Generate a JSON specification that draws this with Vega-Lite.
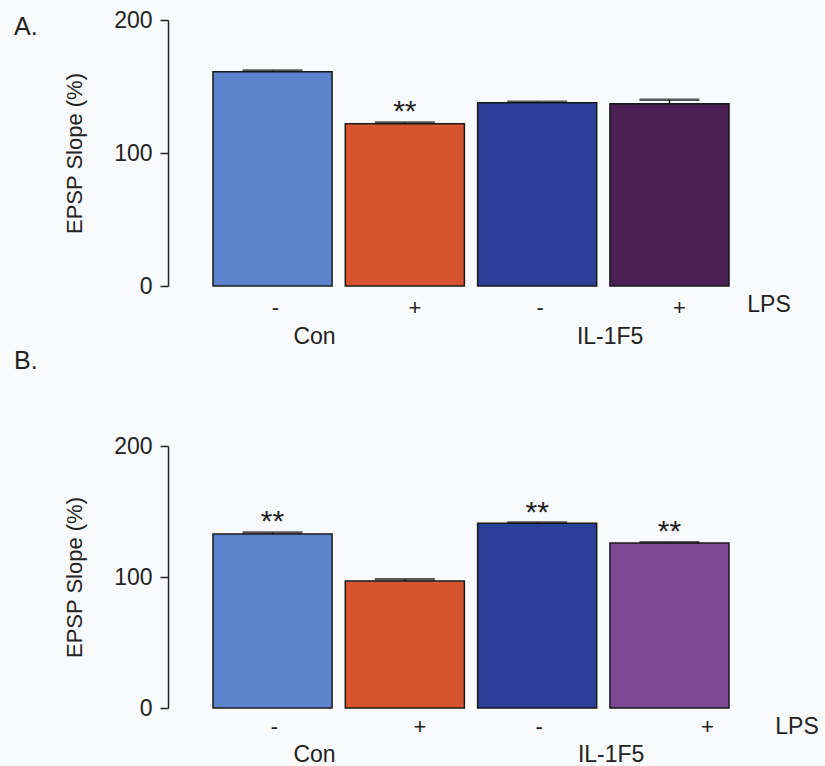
{
  "$schema": "https://vega.github.io/schema/vega-lite/v6.json",
  "background": "#f9fafb",
  "padding": {"left": 14, "top": 9, "right": 5, "bottom": 5},
  "spacing": 0,
  "resolve": {"scale": {"color": "independent"}},
  "datasets": {
    "A": [
      {"cond": "Con-", "group": "Con", "lps": "-", "value": 161, "hi": 162, "sig": ""},
      {"cond": "Con+", "group": "Con", "lps": "+", "value": 122, "hi": 123, "sig": "**"},
      {"cond": "IL-", "group": "IL-1F5", "lps": "-", "value": 137.8, "hi": 138.6, "sig": ""},
      {"cond": "IL+", "group": "IL-1F5", "lps": "+", "value": 137, "hi": 140, "sig": ""}
    ],
    "B": [
      {"cond": "Con-", "group": "Con", "lps": "-", "value": 132.8, "hi": 134, "sig": "**"},
      {"cond": "Con+", "group": "Con", "lps": "+", "value": 97, "hi": 98.2, "sig": ""},
      {"cond": "IL-", "group": "IL-1F5", "lps": "-", "value": 141, "hi": 141.6, "sig": "**"},
      {"cond": "IL+", "group": "IL-1F5", "lps": "+", "value": 126, "hi": 126.6, "sig": "**"}
    ],
    "lpsLabel": [{"label": "LPS"}]
  },
  "config": {
    "view": {"stroke": null},
    "font": "Liberation Sans",
    "text": {"color": "#222", "baseline": "middle"},
    "axisY": {
      "domainColor": "#222", "domainWidth": 1.5, "tickColor": "#222", "tickWidth": 1.5, "tickSize": 8,
      "labelFontSize": 23, "labelColor": "#222", "labelPadding": 8,
      "titleFontSize": 22, "titleFontWeight": "normal", "titleColor": "#222", "titlePadding": 27,
      "grid": false
    }
  },
  "vconcat": [
    {
      "title": {"text": "A.", "anchor": "start", "frame": "group", "dx": -154, "dy": 31, "offset": 0, "fontSize": 25, "fontWeight": "normal", "color": "#222"},
      "width": 606,
      "height": 266,
      "data": {"name": "A"},
      "encoding": {
        "x": {"field": "cond", "type": "nominal", "sort": null, "axis": null, "scale": {"paddingInner": 0.1, "paddingOuter": 0.34}}
      },
      "layer": [
        {
          "mark": {"type": "bar", "stroke": "#1a1a1a", "strokeWidth": 1.5},
          "encoding": {
            "y": {"field": "value", "type": "quantitative", "scale": {"domain": [0, 200], "nice": false}, "axis": {"title": "EPSP Slope (%)", "values": [0, 100, 200]}},
            "color": {"field": "cond", "type": "nominal", "sort": null, "scale": {"range": ["#5b84cc", "#d8542e", "#2b3e98", "#4c1f55"]}, "legend": null}
          }
        },
        {
          "mark": {"type": "rule", "strokeWidth": 1.5, "color": "#111"},
          "encoding": {"y": {"field": "value", "type": "quantitative"}, "y2": {"field": "hi"}}
        },
        {
          "mark": {"type": "tick", "size": 60, "thickness": 2.5, "color": "#111"},
          "encoding": {"y": {"field": "hi", "type": "quantitative"}}
        },
        {
          "mark": {"type": "text", "dy": -10, "fontSize": 30},
          "encoding": {"y": {"field": "hi", "type": "quantitative"}, "text": {"field": "sig"}}
        },
        {
          "transform": [{"filter": "datum.lps === '-'"}],
          "mark": {"type": "text", "dx": 3, "dy": 22, "fontSize": 22},
          "encoding": {"y": {"datum": 0}, "text": {"field": "lps"}}
        },
        {
          "transform": [{"filter": "datum.lps === '+'"}],
          "mark": {"type": "text", "dx": 10, "dy": 22, "fontSize": 22},
          "encoding": {"y": {"datum": 0}, "text": {"field": "lps"}}
        },
        {
          "transform": [{"filter": "datum.cond === 'Con-'"}],
          "mark": {"type": "text", "dx": 42, "dy": 51, "fontSize": 23},
          "encoding": {"y": {"datum": 0}, "text": {"field": "group"}}
        },
        {
          "transform": [{"filter": "datum.cond === 'IL-'"}],
          "mark": {"type": "text", "dx": 73, "dy": 51, "fontSize": 23},
          "encoding": {"y": {"datum": 0}, "text": {"field": "group"}}
        },
        {
          "data": {"name": "lpsLabel"},
          "mark": {"type": "text", "dx": -5, "dy": 19, "fontSize": 23},
          "encoding": {"x": {"value": "width"}, "y": {"datum": 0}, "text": {"field": "label"}}
        }
      ]
    },
    {
      "title": {"text": "B.", "anchor": "start", "frame": "group", "dx": -154, "offset": 61, "fontSize": 25, "fontWeight": "normal", "color": "#222"},
      "width": 606,
      "height": 262,
      "data": {"name": "B"},
      "encoding": {
        "x": {"field": "cond", "type": "nominal", "sort": null, "axis": null, "scale": {"paddingInner": 0.1, "paddingOuter": 0.34}}
      },
      "layer": [
        {
          "mark": {"type": "bar", "stroke": "#1a1a1a", "strokeWidth": 1.5},
          "encoding": {
            "y": {"field": "value", "type": "quantitative", "scale": {"domain": [0, 200], "nice": false}, "axis": {"title": "EPSP Slope (%)", "values": [0, 100, 200]}},
            "color": {"field": "cond", "type": "nominal", "sort": null, "scale": {"range": ["#5b84cc", "#d8542e", "#2b3e98", "#7c4896"]}, "legend": null}
          }
        },
        {
          "mark": {"type": "rule", "strokeWidth": 1.5, "color": "#111"},
          "encoding": {"y": {"field": "value", "type": "quantitative"}, "y2": {"field": "hi"}}
        },
        {
          "mark": {"type": "tick", "size": 60, "thickness": 2.5, "color": "#111"},
          "encoding": {"y": {"field": "hi", "type": "quantitative"}}
        },
        {
          "mark": {"type": "text", "dy": -10, "fontSize": 30},
          "encoding": {"y": {"field": "hi", "type": "quantitative"}, "text": {"field": "sig"}}
        },
        {
          "transform": [{"filter": "datum.lps === '-'"}],
          "mark": {"type": "text", "dx": 2, "dy": 19, "fontSize": 22},
          "encoding": {"y": {"datum": 0}, "text": {"field": "lps"}}
        },
        {
          "transform": [{"filter": "datum.cond === 'Con+'"}],
          "mark": {"type": "text", "dx": 15, "dy": 19, "fontSize": 22},
          "encoding": {"y": {"datum": 0}, "text": {"field": "lps"}}
        },
        {
          "transform": [{"filter": "datum.cond === 'IL+'"}],
          "mark": {"type": "text", "dx": 38, "dy": 19, "fontSize": 22},
          "encoding": {"y": {"datum": 0}, "text": {"field": "lps"}}
        },
        {
          "transform": [{"filter": "datum.cond === 'Con-'"}],
          "mark": {"type": "text", "dx": 42, "dy": 47, "fontSize": 23},
          "encoding": {"y": {"datum": 0}, "text": {"field": "group"}}
        },
        {
          "transform": [{"filter": "datum.cond === 'IL-'"}],
          "mark": {"type": "text", "dx": 74, "dy": 47, "fontSize": 23},
          "encoding": {"y": {"datum": 0}, "text": {"field": "group"}}
        },
        {
          "data": {"name": "lpsLabel"},
          "mark": {"type": "text", "dx": 23, "dy": 19, "fontSize": 23},
          "encoding": {"x": {"value": "width"}, "y": {"datum": 0}, "text": {"field": "label"}}
        }
      ]
    }
  ]
}
